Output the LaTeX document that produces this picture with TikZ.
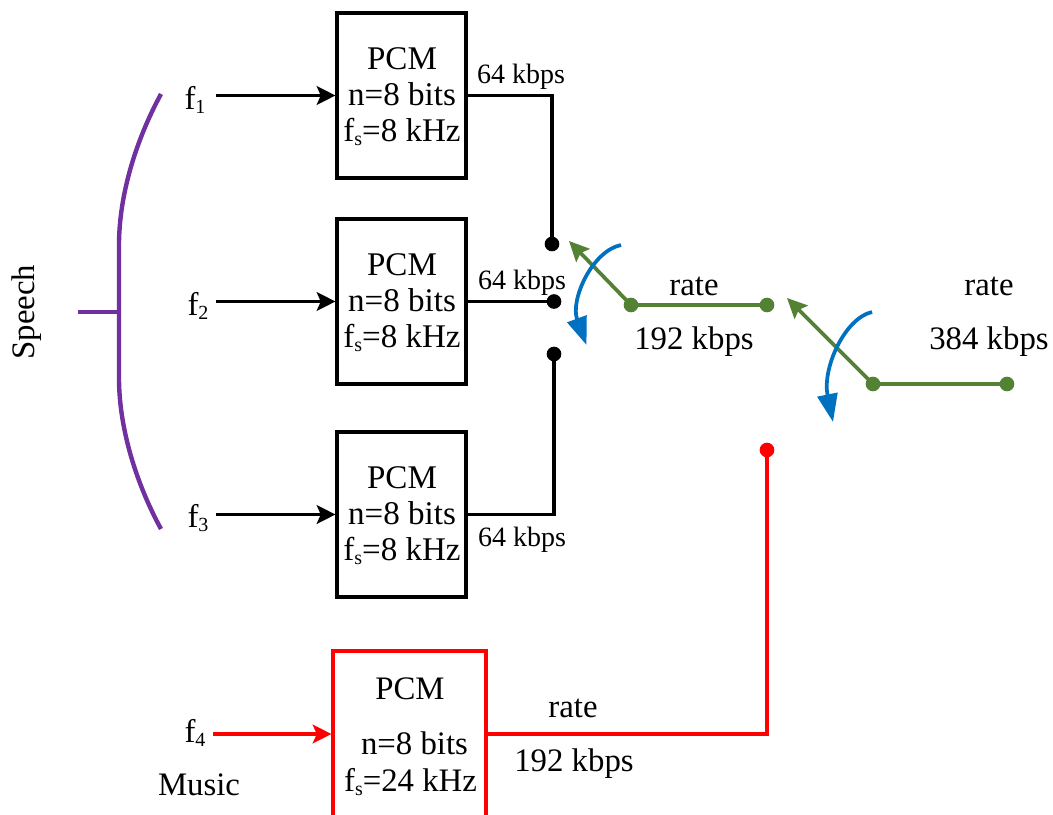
\documentclass[tikz,border=0pt]{standalone}
\usepackage{fontspec}
\setmainfont{Liberation Serif}
\usetikzlibrary{arrows.meta}
\definecolor{cpurple}{HTML}{7030A0}
\definecolor{cgreen}{HTML}{548235}
\definecolor{cblue}{HTML}{0070C0}
\newcommand{\lowsub}[1]{\lower3.2pt\hbox{\fontsize{15}{15}\selectfont #1}}
\tikzset{
  x=0.75pt,y=-0.75pt,
  pcm/.style={draw=black,line width=2.6pt,minimum width=96.5pt,minimum height=123.5pt,inner sep=0pt},
  pcmred/.style={pcm,draw=red,minimum width=114.5pt,minimum height=124.5pt},
  boxtext/.style={inner sep=0pt,align=center,font=\fontsize{24.8}{27}\selectfont},
  lab/.style={inner sep=0pt,font=\fontsize{24.6}{27}\selectfont},
  small/.style={inner sep=0pt,font=\fontsize{21}{24}\selectfont},
  wire/.style={line width=2.6pt,line join=miter},
  arr/.style={wire,-{Stealth[length=14pt,width=14pt,inset=3pt]}},
  dotb/.style={circle,fill=black,inner sep=0pt,minimum size=11pt},
  dotg/.style={circle,fill=cgreen,inner sep=0pt,minimum size=11pt},
  dotr/.style={circle,fill=red,inner sep=0pt,minimum size=11pt},
  grn/.style={draw=cgreen,line width=2.8pt},
  grnarr/.style={grn,-{Stealth[length=15pt,width=14pt,inset=2.5pt]}},
  blu/.style={draw=cblue,line width=2.8pt,-{Stealth[length=21pt,width=15pt,inset=0pt]}},
  pur/.style={draw=cpurple,line width=3.3pt},
}
\begin{document}
\begin{tikzpicture}
\useasboundingbox (0,0) rectangle (1053,814);
% PCM boxes
\node[pcm] (b1) at (401.5,95.5) {};
\node[pcm] (b2) at (401.5,301.5) {};
\node[pcm] (b3) at (401.5,514.5) {};
\node[pcmred] (b4) at (409.5,734) {};
\node[boxtext] (t1) at (402,97) {PCM\\n=8 bits\\f\lowsub{s}=8 kHz};
\node[boxtext] (t2) at (402,303) {PCM\\n=8 bits\\f\lowsub{s}=8 kHz};
\node[boxtext] (t3) at (402,516) {PCM\\n=8 bits\\f\lowsub{s}=8 kHz};
\node[lab] (t4a) at (410,689) {PCM};
\node[lab] (t4b) at (414.5,743.5) {n=8 bits};
\node[lab] (t4c) at (410.5,782) {f\lowsub{s}=24 kHz};
% inputs
\node[lab] (f1) at (195,100) {f\lowsub{1}};
\node[lab] (f2) at (198,306) {f\lowsub{2}};
\node[lab] (f3) at (198,518) {f\lowsub{3}};
\node[lab] (f4) at (195,733) {f\lowsub{4}};
\node[lab] (music) at (199,785) {Music};
\node[lab,rotate=90] (speech) at (27,312) {Speech};
\coordinate (i1) at (216,95.5);
\coordinate (i2) at (216,301.5);
\coordinate (i3) at (216,514.5);
\coordinate (i4) at (213,734);
\draw[arr] (i1) -- (b1.west);
\draw[arr] (i2) -- (b2.west);
\draw[arr] (i3) -- (b3.west);
\draw[arr,red] (i4) -- (b4.west);
% switch contacts
\node[dotb] (d1) at (552,244) {};
\node[dotb] (d2) at (554,301.5) {};
\node[dotb] (d3) at (554,354) {};
\draw[wire] (b1.east) -- (d1.center |- b1.east) -- (d1.center);
\draw[wire] (b2.east) -- (d2.center);
\draw[wire] (b3.east) -- (d3.center |- b3.east) -- (d3.center);
\node[small] (r1) at (521,77) {64 kbps};
\node[small] (r2) at (522,283) {64 kbps};
\node[small] (r3) at (522,540) {64 kbps};
% green switches
\node[dotg] (g1) at (631,305) {};
\node[dotg] (g2) at (767,305) {};
\node[dotg] (g3) at (873,384) {};
\node[dotg] (g4) at (1007,384) {};
\coordinate (t1c) at (569,241);
\coordinate (t2c) at (787,298);
\draw[grn] (g1.center) -- (g2.center);
\draw[grn] (g3.center) -- (g4.center);
\draw[grnarr] (g1.center) -- (t1c);
\draw[grnarr] (g3.center) -- (t2c);
% blue arcs
\coordinate (a1) at (621,245);
\coordinate (a2) at (586.5,345);
\coordinate (a3) at (872,312);
\coordinate (a4) at (833,422);
\draw[blu] (a1) .. controls (592,251) and (570,300) .. (a2);
\draw[blu] (a3) .. controls (845,318) and (822,368) .. (a4);
% rate labels
\node[lab] (l1) at (694,286) {rate};
\node[lab] (l2) at (694,342) {192 kbps};
\node[lab] (l3) at (989,286) {rate};
\node[lab] (l4) at (989,342) {384 kbps};
\node[lab] (l5) at (573,708) {rate};
\node[lab] (l6) at (574,764) {192 kbps};
% red path
\node[dotr] (rd) at (767,450) {};
\draw[wire,red] (b4.east) -- (rd.center |- b4.east) -- (rd.center);
% speech brace
\coordinate (p1) at (161,94);
\coordinate (p2) at (119,245);
\coordinate (p3) at (119,378);
\coordinate (p4) at (161,529);
\coordinate (p5) at (78,312);
\coordinate (p6) at (119,312);
\draw[pur] (p1) .. controls (136,140) and (119,195) .. (p2) -- (p3) .. controls (119,428) and (136,483) .. (p4);
\draw[pur] (p5) -- (p6);
\end{tikzpicture}
\end{document}
